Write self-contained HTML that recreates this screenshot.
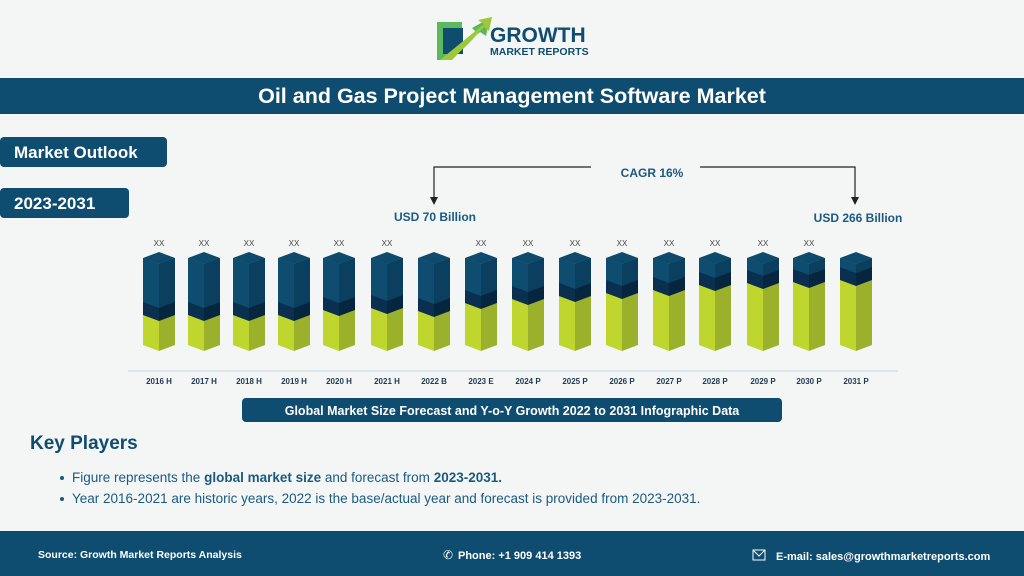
<!DOCTYPE html>
<html><head><meta charset="utf-8">
<style>
*{margin:0;padding:0;box-sizing:border-box}
body{width:1024px;height:576px;background:#f4f6f6;font-family:"Liberation Sans",sans-serif;position:relative;overflow:hidden}
.abs{position:absolute}
</style></head><body>
<svg class="abs" style="left:0;top:0" width="1024" height="576" xmlns="http://www.w3.org/2000/svg">
<polygon points="437,22 462,22 462,50 478,34 472,28 490,18 486,36 480,32 450,60 437,60" fill="#5cb85c"/>
<rect x="443" y="28" width="20" height="26" fill="#0e4c70"/>
<polygon points="440,60 484,24 478,20 492,17 489,31 484,27 452,60" fill="#9cc83a"/>
<text x="490" y="42" font-family="Liberation Sans" font-weight="bold" font-size="21" fill="#0e4c70">GROWTH</text>
<text x="490" y="55" font-family="Liberation Sans" font-weight="bold" font-size="10.5" fill="#0e4c70">MARKET REPORTS</text>
<rect x="0" y="78" width="1024" height="36" fill="#0e4c70"/>
<text x="512" y="103" text-anchor="middle" font-family="Liberation Sans" font-weight="bold" font-size="21.5" fill="#fff">Oil and Gas Project Management Software Market</text>
<rect x="0" y="137" width="167" height="30" rx="4" fill="#0e4c70"/>
<text x="14" y="158" font-family="Liberation Sans" font-weight="bold" font-size="17" fill="#fff">Market Outlook</text>
<rect x="0" y="188" width="129" height="30" rx="4" fill="#0e4c70"/>
<text x="14" y="209" font-family="Liberation Sans" font-weight="bold" font-size="17" fill="#fff">2023-2031</text>
<polyline points="591,167 434,167 434,198" fill="none" stroke="#222" stroke-width="1.2"/>
<polyline points="700,167 855,167 855,198" fill="none" stroke="#222" stroke-width="1.2"/>
<polygon points="430,197 438,197 434,205" fill="#222"/>
<polygon points="851,197 859,197 855,205" fill="#222"/>
<text x="652" y="177" text-anchor="middle" font-family="Liberation Sans" font-weight="bold" font-size="12" fill="#1a5a80">CAGR 16%</text>
<text x="435" y="221" text-anchor="middle" font-family="Liberation Sans" font-weight="bold" font-size="12" fill="#1a5a80">USD 70 Billion</text>
<text x="858" y="222" text-anchor="middle" font-family="Liberation Sans" font-weight="bold" font-size="12" fill="#1a5a80">USD 266 Billion</text>
<g id="bars"></g>
<line x1="128" y1="371" x2="898" y2="371" stroke="#c5d4dc" stroke-width="1"/>
<rect x="242" y="398" width="540" height="24" rx="4" fill="#0e4c70"/>
<text x="512" y="415" text-anchor="middle" font-family="Liberation Sans" font-weight="bold" font-size="12.5" fill="#fff">Global Market Size Forecast and Y-o-Y Growth 2022 to 2031 Infographic Data</text>
<text x="30" y="449" font-family="Liberation Sans" font-weight="bold" font-size="19" fill="#0e4c70">Key Players</text>
<circle cx="62" cy="478" r="2" fill="#1a5a80"/>
<text x="72" y="482" font-family="Liberation Sans" font-size="13.5" fill="#1a5a80">Figure represents the <tspan font-weight="bold">global market size</tspan> and forecast from <tspan font-weight="bold">2023-2031.</tspan></text>
<circle cx="62" cy="499" r="2" fill="#1a5a80"/>
<text x="72" y="503" font-family="Liberation Sans" font-size="13.5" fill="#1a5a80">Year 2016-2021 are historic years, 2022 is the base/actual year and forecast is provided from 2023-2031.</text>
<rect x="0" y="531" width="1024" height="45" fill="#0e4c70"/>
<text x="38" y="558" font-family="Liberation Sans" font-weight="bold" font-size="10.5" fill="#fff">Source: Growth Market Reports Analysis</text>
<text x="443" y="559" font-family="Liberation Sans" font-size="12" fill="#fff">✆</text>
<text x="458" y="559" font-family="Liberation Sans" font-weight="bold" font-size="11" fill="#fff">Phone: +1 909 414 1393</text>
<rect x="753" y="550" width="12" height="10" fill="none" stroke="#fff" stroke-width="1"/>
<polyline points="753,550 759,556 765,550" fill="none" stroke="#fff" stroke-width="1"/>
<text x="776" y="560" font-family="Liberation Sans" font-weight="bold" font-size="11" fill="#fff">E-mail: sales@growthmarketreports.com</text>
</svg>
<script>
var cx=[159,204,249,294,339,387,434,481,528,575,622,669,715,763,809,856];
var gt=[315,315,315,315,310,308,311,303,299,296,293,290,285,283,282,280];
var lab=["2016 H","2017 H","2018 H","2019 H","2020 H","2021 H","2022 B","2023 E","2024 P","2025 P","2026 P","2027 P","2028 P","2029 P","2030 P","2031 P"];
var s="";
function face(l,r,t1,t2,b1,b2,c){return '<polygon points="'+l+','+t1+' '+r+','+t2+' '+r+','+b2+' '+l+','+b1+'" fill="'+c+'"/>';}
for(var i=0;i<16;i++){
 var c=cx[i],l=c-16,r=c+16,g=gt[i],d=g-13;
 s+=face(l,c,258,264,345,351,"#bfd62f");
 s+=face(c,r,264,258,351,345,"#9bb02b");
 s+=face(l,c,258,264,g,g+6,"#0a2f4f");
 s+=face(c,r,264,258,g+6,g,"#062640");
 s+=face(l,c,258,264,d,d+6,"#0e4c70");
 s+=face(c,r,264,258,d+6,d,"#0b3f5f");
 s+='<polygon points="'+l+',258 '+c+',252 '+r+',258 '+c+',264" fill="#0d4a6c"/>';
 if(i!=6&&i!=15) s+='<text x="'+c+'" y="246" text-anchor="middle" font-family="Liberation Sans" font-size="8" fill="#444">XX</text>';
 s+='<text x="'+c+'" y="384" text-anchor="middle" font-family="Liberation Sans" font-weight="bold" font-size="8" fill="#1f3a55">'+lab[i]+'</text>';
}
document.getElementById("bars").innerHTML=s;
</script>
</body></html>
